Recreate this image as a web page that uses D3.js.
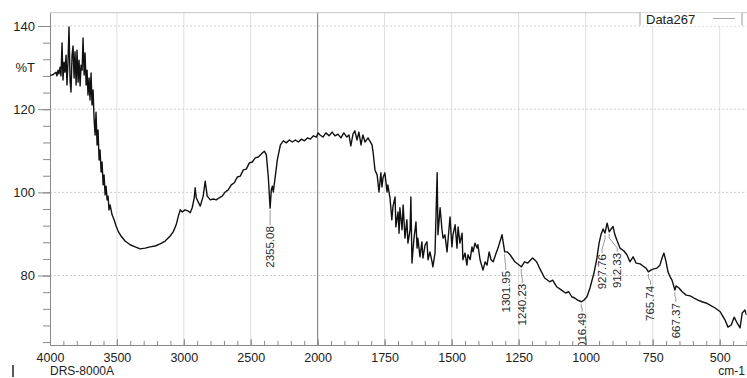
<!DOCTYPE html>
<html>
<head>
<meta charset="utf-8">
<script src="https://cdn.jsdelivr.net/npm/d3@7"></script>
<style>
  html, body { margin: 0; padding: 0; background: #fff; }
  svg { display: block; font-family: "Liberation Sans", Arial, sans-serif; }
</style>
</head>
<body>
<svg id="chart" width="747" height="378"></svg>
<script>
// spectrum: wavenumber (cm-1) and transmittance (%T)
const wavenumbers = [
  4000, 3985, 3970, 3955, 3948, 3940, 3933, 3925, 3918, 3910,
  3903, 3895, 3888, 3880, 3873, 3865, 3858, 3850, 3843, 3835,
  3828, 3820, 3813, 3805, 3798, 3790, 3783, 3775, 3768, 3760,
  3753, 3745, 3738, 3730, 3723, 3716, 3708, 3701, 3693, 3686,
  3678, 3671, 3663, 3656, 3648, 3641, 3633, 3626, 3618, 3611,
  3603, 3596, 3588, 3581, 3573, 3566, 3559, 3551, 3536, 3521,
  3506, 3491, 3469, 3439, 3401, 3364, 3326, 3289, 3252, 3214,
  3177, 3139, 3102, 3079, 3057, 3042, 3027, 3012, 2990, 2967,
  2952, 2937, 2922, 2915, 2907, 2892, 2877, 2855, 2840, 2825,
  2802, 2780, 2757, 2735, 2713, 2690, 2668, 2645, 2623, 2600,
  2578, 2555, 2533, 2510, 2488, 2466, 2443, 2421, 2398, 2383,
  2368, 2355, 2346, 2338, 2331, 2316, 2301, 2278, 2256, 2234,
  2211, 2189, 2166, 2144, 2121, 2099, 2076, 2054, 2031, 2009,
  1998, 1991, 1980, 1969, 1957, 1946, 1935, 1924, 1913, 1902,
  1891, 1883, 1876, 1868, 1861, 1853, 1846, 1838, 1831, 1823,
  1812, 1797, 1793, 1786, 1778, 1775, 1771, 1764, 1760, 1756,
  1749, 1741, 1738, 1730, 1723, 1719, 1711, 1708, 1700, 1696,
  1693, 1685, 1681, 1674, 1667, 1663, 1655, 1652, 1648, 1641,
  1633, 1629, 1626, 1618, 1611, 1607, 1599, 1592, 1588, 1581,
  1573, 1570, 1562, 1554, 1551, 1543, 1536, 1532, 1525, 1517,
  1514, 1506, 1499, 1495, 1487, 1480, 1476, 1469, 1461, 1458,
  1450, 1443, 1439, 1431, 1424, 1420, 1413, 1405, 1402, 1394,
  1383, 1375, 1368, 1360, 1353, 1345, 1334, 1327, 1312, 1302,
  1293, 1282, 1264, 1240, 1228, 1216, 1198, 1183, 1172, 1153,
  1134, 1123, 1108, 1090, 1075, 1063, 1052, 1041, 1030, 1016,
  1006, 995, 984, 969, 958, 950, 943, 935, 928, 920,
  912, 905, 898, 891, 883, 872, 857, 846, 835, 823,
  812, 797, 786, 775, 766, 757, 746, 734, 723, 715,
  708, 700, 693, 685, 678, 667, 663, 652, 640, 625,
  610, 596, 581, 566, 551, 536, 517, 498, 491, 480,
  469, 457, 446, 435, 424, 416, 406, 400
];
const transmittance = [
  128.2, 128.2, 128.5, 128.9, 128.0, 129.4, 128.5, 130.1, 128.0, 135.9,
  127.0, 131.3, 128.9, 133.0, 125.8, 131.8, 139.8, 127.0, 124.1, 133.0,
  135.2, 127.5, 133.8, 125.8, 134.2, 126.5, 131.8, 125.6, 130.6, 129.4,
  137.1, 128.2, 133.5, 125.8, 129.4, 123.4, 127.5, 122.2, 128.7, 121.0,
  124.6, 117.9, 113.8, 119.3, 111.4, 115.0, 107.8, 110.2, 104.9, 107.3,
  101.8, 104.2, 99.4, 101.5, 98.2, 99.1, 95.8, 97.0, 94.6, 93.4,
  91.9, 90.7, 89.5, 88.3, 87.4, 86.9, 86.4, 86.6, 86.9, 87.1,
  87.6, 88.3, 89.5, 90.5, 92.2, 94.1, 95.8, 95.3, 95.8, 95.5,
  95.1, 96.3, 98.7, 101.1, 98.7, 97.7, 96.7, 99.1, 102.7, 99.1,
  98.2, 98.4, 98.2, 98.7, 99.1, 100.1, 100.6, 101.8, 102.3, 103.7,
  103.9, 105.4, 105.6, 107.1, 107.3, 108.3, 108.5, 109.2, 109.9, 109.0,
  103.5, 96.2, 100.6, 101.5, 100.1, 103.9, 107.8, 111.4, 112.4, 111.9,
  112.6, 112.1, 112.6, 112.1, 112.8, 112.4, 113.1, 112.8, 113.6, 113.3,
  114.3, 113.8, 113.3, 114.3, 113.6, 114.5, 113.6, 114.0, 113.1, 114.3,
  113.3, 113.8, 111.2, 114.0, 114.8, 112.6, 114.5, 111.4, 113.8, 112.1,
  113.1, 111.4, 109.7, 105.4, 104.2, 102.5, 100.1, 104.7, 101.3, 103.5,
  104.7, 100.1, 101.8, 98.7, 93.4, 96.5, 98.9, 91.7, 95.3, 90.2,
  96.3, 91.0, 97.0, 89.0, 93.4, 87.8, 91.0, 98.9, 83.0, 88.6,
  92.9, 86.6, 89.0, 84.5, 88.1, 84.2, 87.4, 88.1, 83.8, 85.7,
  83.3, 82.1, 85.4, 104.7, 89.8, 96.3, 91.0, 89.0, 89.8, 85.7,
  88.1, 94.1, 86.9, 89.8, 92.2, 86.6, 91.7, 87.8, 90.2, 83.8,
  85.4, 82.5, 85.0, 83.8, 86.9, 85.7, 87.8, 86.6, 87.4, 83.8,
  81.3, 83.3, 82.5, 85.7, 83.8, 83.3, 85.4, 86.6, 89.8, 85.7,
  85.7, 85.0, 83.3, 82.1, 83.3, 83.0, 84.2, 83.3, 81.8, 79.4,
  78.5, 78.9, 77.3, 76.5, 75.8, 76.1, 74.9, 74.6, 74.1, 73.7,
  74.1, 74.9, 77.0, 80.6, 84.2, 87.8, 89.8, 91.2, 90.2, 92.6,
  90.5, 91.2, 91.8, 89.8, 88.4, 86.6, 85.9, 85.0, 83.3, 84.5,
  83.0, 82.8, 82.3, 81.8, 80.9, 81.3, 81.6, 81.8, 82.5, 84.2,
  85.4, 83.3, 80.9, 79.7, 78.9, 76.5, 77.5, 77.0, 76.1, 75.3,
  75.1, 74.6, 74.1, 73.7, 73.4, 72.9, 72.2, 71.3, 70.5, 69.3,
  67.6, 68.1, 70.0, 68.6, 67.4, 71.0, 71.7, 70.5
];

// picked peaks
const peakPositions = [2355.08, 1301.95, 1240.23, 1016.49, 927.76, 912.33, 765.74, 667.37];
const peakLabels = ["2355.08", "1301.95", "1240.23", "1016.49", "927.76", "912.33", "765.74", "667.37"];

const xTickValues = [4000, 3500, 3000, 2500, 2000, 1750, 1500, 1250, 1000, 750, 500];
const yTickValues = [80, 100, 120, 140];
const legendName = "Data267";

const spectrum = wavenumbers.map((w, i) => ({ wn: w, t: transmittance[i] }));

const plotLeft = 50, plotRight = 746.5, plotTop = 12.7, plotBottom = 345;

// x axis is compressed 2x above 2000 cm-1, like the instrument printout
const x = d3.scaleLinear().domain([4000, 2000, 400]).range([plotLeft, 317.6, plotRight]);
const y = d3.scaleLinear().domain([63.3, 143.2]).range([plotBottom, plotTop]);

const svg = d3.select("#chart");
svg.append("rect").attr("width", 747).attr("height", 378).attr("fill", "#fff");

svg.append("defs").append("clipPath").attr("id", "plot-clip")
  .append("rect")
  .attr("x", plotLeft).attr("y", plotTop)
  .attr("width", plotRight - plotLeft).attr("height", plotBottom - plotTop);

// grid
svg.selectAll(".vgrid")
  .data(xTickValues.filter((d) => d !== 4000))
  .enter()
  .append("line")
  .attr("class", "vgrid")
  .attr("x1", (d) => x(d)).attr("x2", (d) => x(d))
  .attr("y1", plotTop).attr("y2", plotBottom)
  .attr("stroke", (d) => (d === 2000 ? "#8c8c8c" : "#dedede"))
  .attr("stroke-width", (d) => (d === 2000 ? 1.2 : 1));

svg.selectAll(".hgrid")
  .data(yTickValues)
  .enter()
  .append("line")
  .attr("class", "hgrid")
  .attr("x1", plotLeft).attr("x2", plotRight)
  .attr("y1", (d) => y(d)).attr("y2", (d) => y(d))
  .attr("stroke", "#cfcfcf")
  .attr("stroke-dasharray", "2,2");

// top frame line
svg.append("line")
  .attr("x1", plotLeft).attr("x2", 747)
  .attr("y1", plotTop).attr("y2", plotTop)
  .attr("stroke", "#c4c4c4");

// axes
const styleAxis = (size) => (g) => {
  g.selectAll("path, line").attr("stroke", "#8a8a8a");
  g.selectAll("text").attr("fill", "#222").style("font-size", size);
};

svg.append("g")
  .attr("transform", `translate(0,${plotBottom})`)
  .call(d3.axisBottom(x)
    .tickValues(d3.range(4000, 2000, -100).concat(d3.range(2000, 399, -50)))
    .tickSize(-4).tickSizeOuter(0).tickFormat(""))
  .call(styleAxis("12px"));

svg.append("g")
  .attr("transform", `translate(0,${plotBottom})`)
  .call(d3.axisBottom(x).tickValues(xTickValues).tickFormat(d3.format("d"))
    .tickSize(-6).tickSizeOuter(0).tickPadding(8))
  .call(styleAxis("12.5px"))
  .call((g) => g.select(".domain").remove());

svg.append("g")
  .attr("transform", `translate(${plotLeft},0)`)
  .call(d3.axisLeft(y).tickValues(d3.range(64, 143, 4)).tickSize(7).tickSizeOuter(0).tickFormat(""))
  .call(styleAxis("13px"));

svg.append("g")
  .attr("transform", `translate(${plotLeft},0)`)
  .call(d3.axisLeft(y).tickValues(yTickValues).tickFormat(d3.format("d"))
    .tickSize(12).tickSizeOuter(0).tickPadding(3))
  .call(styleAxis("13px"))
  .call((g) => g.select(".domain").remove());

svg.append("text")
  .attr("x", 35).attr("y", y(130)).attr("dy", "0.35em")
  .attr("text-anchor", "end")
  .attr("fill", "#222").style("font-size", "13px")
  .text("%T");

svg.append("text")
  .attr("x", plotLeft).attr("y", 375.2)
  .attr("fill", "#222").style("font-size", "12px")
  .text("DRS-8000A");

svg.append("text")
  .attr("x", 745).attr("y", 375.2)
  .attr("text-anchor", "end")
  .attr("fill", "#222").style("font-size", "12px")
  .text("cm-1");

svg.append("line")
  .attr("x1", 13).attr("x2", 13).attr("y1", 365).attr("y2", 377)
  .attr("stroke", "#222").attr("stroke-width", 1.5);

// spectrum
const plot = svg.append("g").attr("clip-path", "url(#plot-clip)");

const line = d3.line()
  .x((d) => x(d.wn))
  .y((d) => y(d.t));

plot.append("path")
  .datum(spectrum)
  .attr("fill", "none")
  .attr("stroke", "#111")
  .attr("stroke-width", 1.4)
  .attr("stroke-linejoin", "round")
  .attr("d", line);

// peak labels, rotated, hanging below the trace
const labelLayout = [
  { dx: 0, gap: 15 },
  { dx: 1, gap: 16 },
  { dx: 1, gap: 14 },
  { dx: 1, gap: 8 },
  { dx: -3, gap: 18 },
  { dx: 8, gap: 18 },
  { dx: 2, gap: 11 },
  { dx: 1, gap: 10 },
];

const nearestT = (wn) => {
  let best = spectrum[0];
  spectrum.forEach((p) => {
    if (Math.abs(p.wn - wn) < Math.abs(best.wn - wn)) best = p;
  });
  return best.t;
};

const peaks = peakPositions.map((p, i) => {
  const px = x(p);
  const py = y(nearestT(p)) + 2;
  const lay = labelLayout[i];
  return { px, py, lx: px + lay.dx, ly: py + lay.gap, text: peakLabels[i] };
});

plot.selectAll(".leader")
  .data(peaks)
  .enter()
  .append("path")
  .attr("class", "leader")
  .attr("fill", "none")
  .attr("stroke", "#9a9a9a")
  .attr("stroke-width", 1)
  .attr("d", (d) => `M${d.px},${d.py}L${d.px},${d.py + 4}L${d.lx},${d.ly - 4}L${d.lx},${d.ly}`);

plot.selectAll(".peak-label")
  .data(peaks)
  .enter()
  .append("text")
  .attr("class", "peak-label")
  .attr("transform", (d) => `translate(${d.lx},${d.ly + 1}) rotate(-90)`)
  .attr("text-anchor", "end")
  .attr("dy", "0.35em")
  .attr("fill", "#2a2a2a")
  .style("font-size", "11.5px")
  .text((d) => d.text);

// legend box
svg.append("rect")
  .attr("x", 640).attr("y", plotTop)
  .attr("width", 102).attr("height", 13)
  .attr("fill", "#fff");
[640, 742].forEach((lx) => {
  svg.append("line")
    .attr("x1", lx).attr("x2", lx).attr("y1", plotTop).attr("y2", plotTop + 12.5)
    .attr("stroke", "#9a9a9a");
});
svg.append("text")
  .attr("x", 646).attr("y", 23.5)
  .attr("fill", "#222").style("font-size", "13px")
  .text(legendName);
svg.append("line")
  .attr("x1", 713).attr("x2", 735).attr("y1", 18.5).attr("y2", 18.5)
  .attr("stroke", "#aaa");
</script>
</body>
</html>
